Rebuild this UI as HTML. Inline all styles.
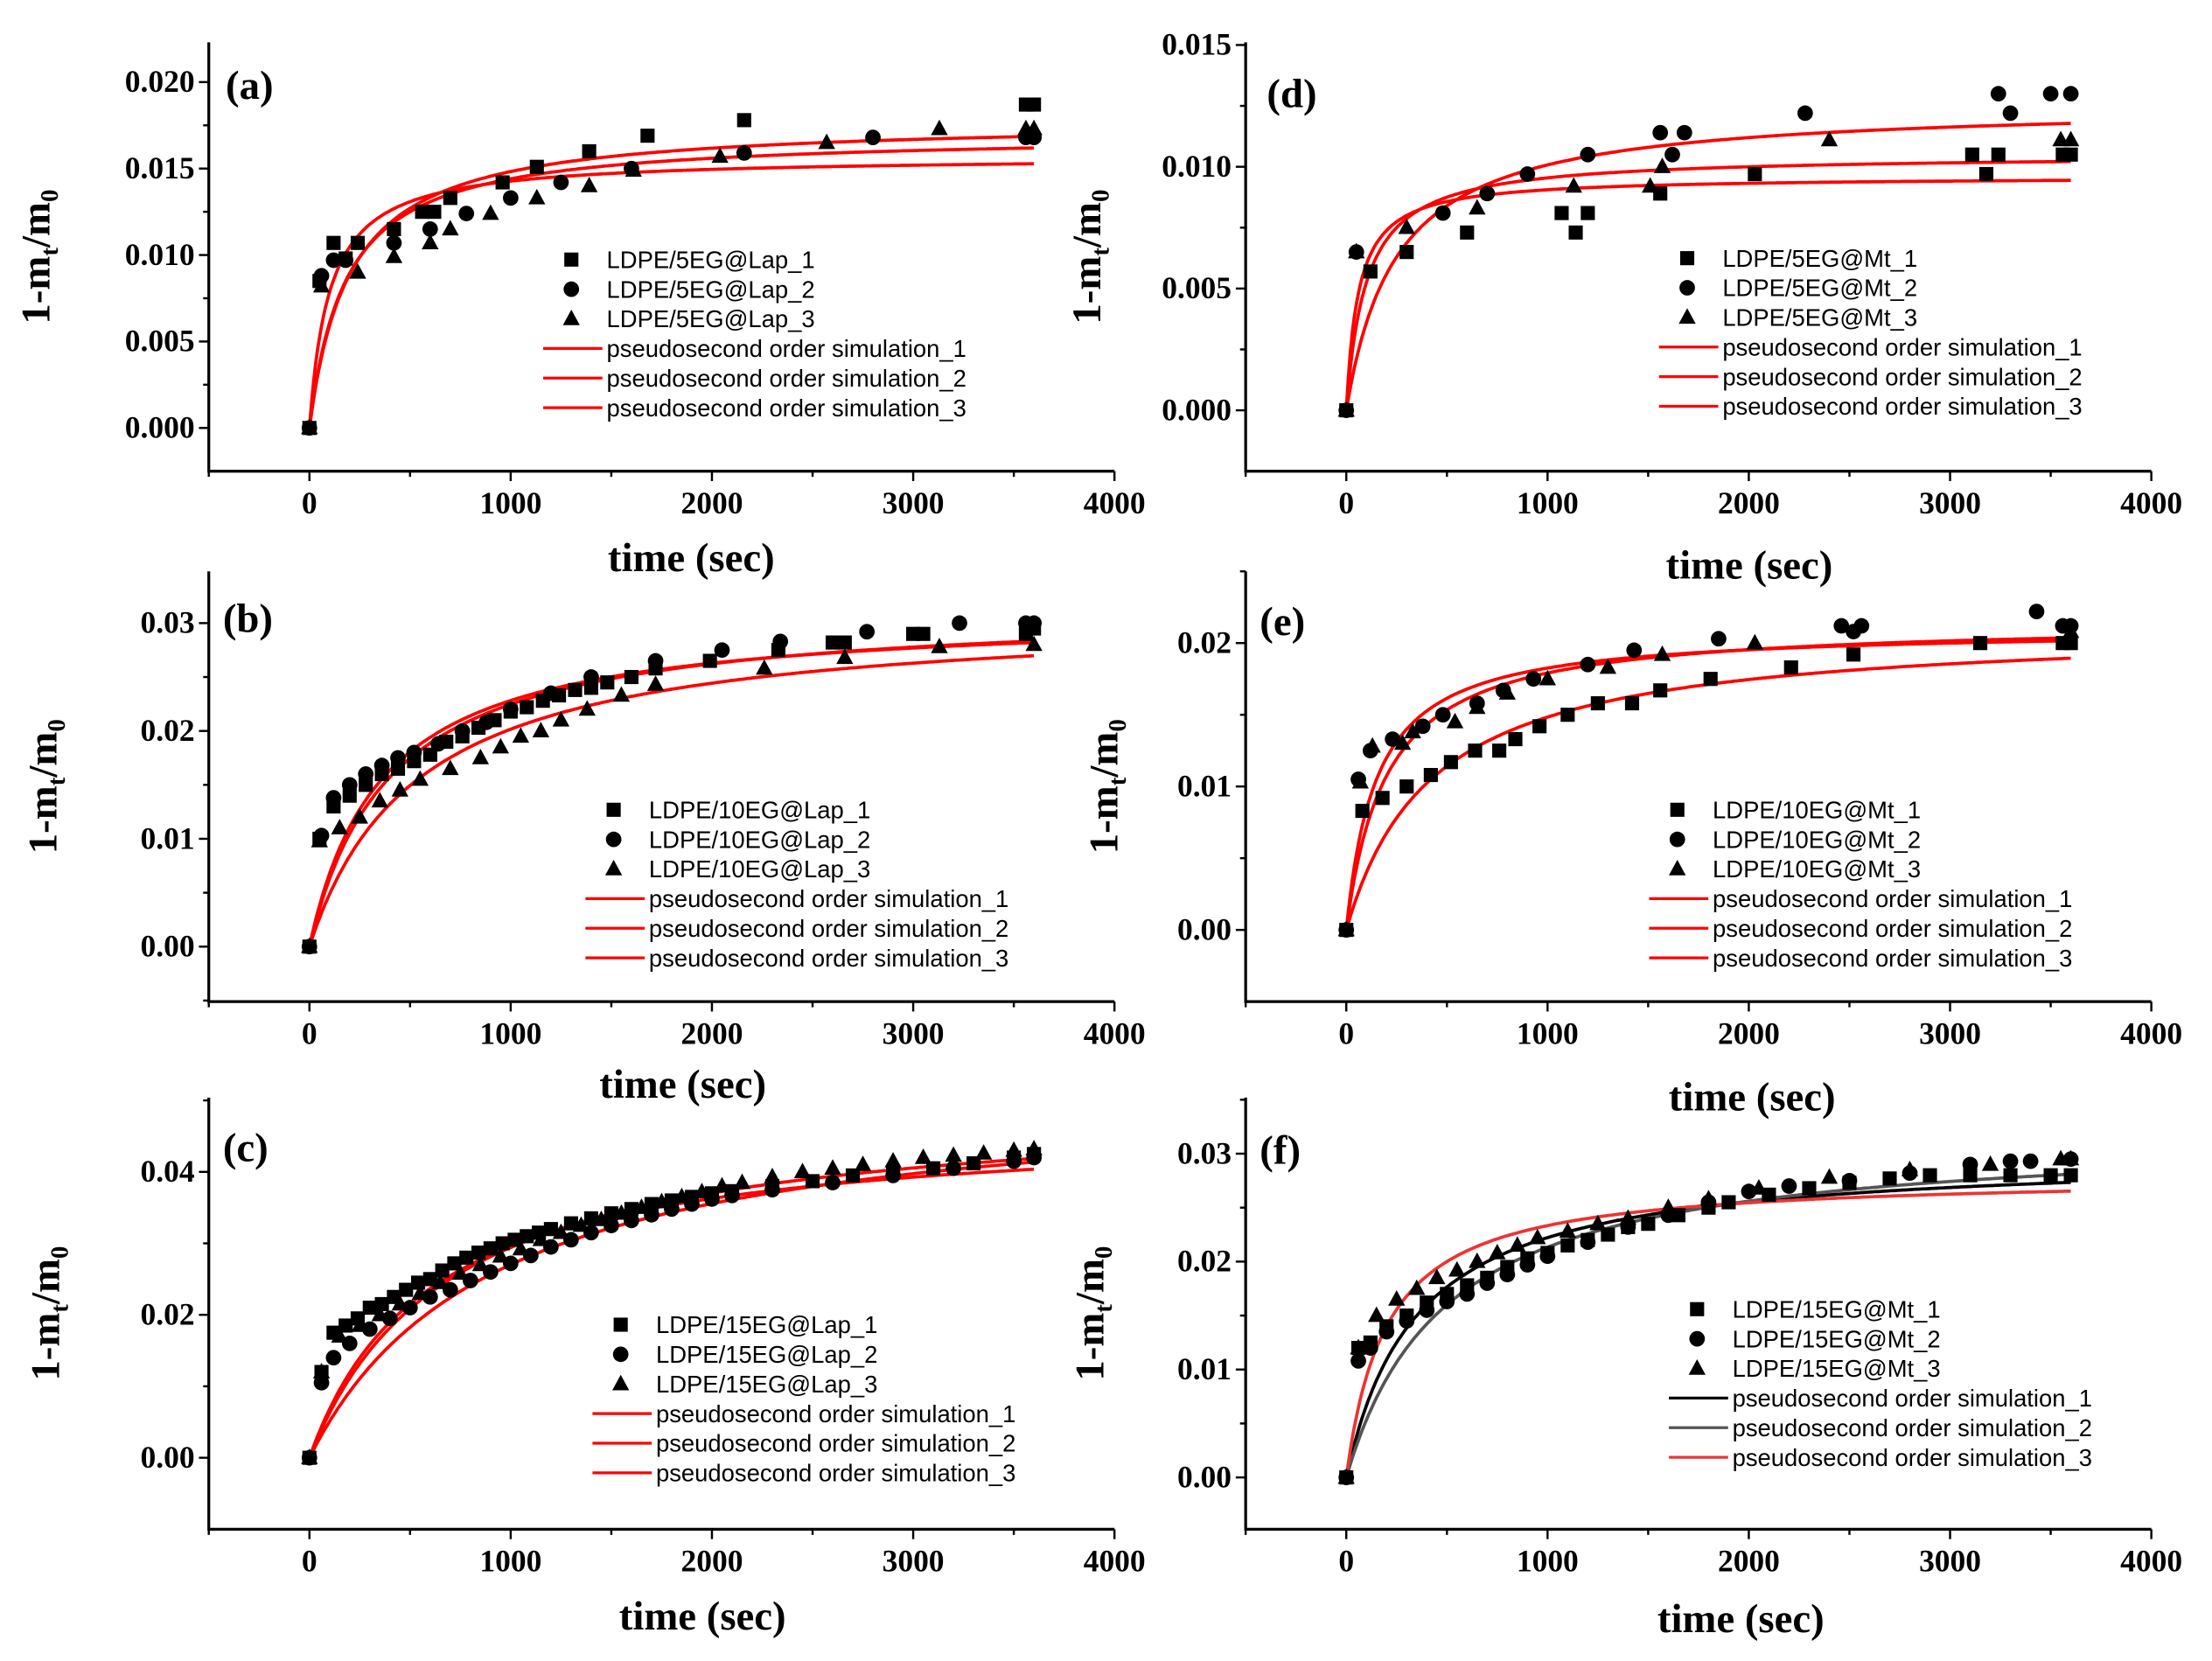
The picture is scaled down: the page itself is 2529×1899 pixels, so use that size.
<!DOCTYPE html>
<html><head><meta charset="utf-8"><style>
html,body{margin:0;padding:0;background:#fff}
svg{display:block}
.tk{font-family:"Liberation Serif",serif;font-weight:bold;font-size:22px}
.at{font-family:"Liberation Serif",serif;font-weight:bold;font-size:29px}
.lg{font-family:"Liberation Sans",sans-serif;font-size:17px}
</style></head><body>
<svg id="fig" width="2529" height="1899" viewBox="0 0 1568 1177.4" xmlns="http://www.w3.org/2000/svg"></svg>
<script>
// ---- data ----
const panelIds=['a','d','b','e','c','f'];
// panel a
const aT1=[0,50,120,180,240,420,560,620,700,960,1130,1390,1680,2160,3560,3600];
const aY1=[0,.0085,.0107,.0098,.0107,.0115,.0125,.0125,.0133,.0142,.0151,.0160,.0169,.0178,.0187,.0187];
const aT2=[0,60,120,180,420,600,780,1000,1250,1600,2160,2800,3560,3600];
const aY2=[0,.0088,.0097,.0097,.0107,.0115,.0124,.0133,.0142,.0150,.0159,.0168,.0168,.0168];
const aT3=[0,60,240,420,600,700,900,1130,1390,1610,2040,2570,3130,3560,3600];
const aY3=[0,.0082,.0090,.0099,.0107,.0115,.0124,.0133,.0140,.0149,.0157,.0165,.0173,.0173,.0173];
const aQe=[.0178,.0170,.0157], aK=[.280,.327,.637];
// panel d
const dT1=[0,120,300,600,1070,1140,1200,1560,2030,3110,3180,3240,3560,3600];
const dY1=[0,.0057,.0065,.0073,.0081,.0073,.0081,.0089,.0097,.0105,.0097,.0105,.0105,.0105];
const dT2=[0,50,480,700,900,1200,1560,1620,1680,2280,3240,3300,3500,3600];
const dY2=[0,.0065,.0081,.0089,.0097,.0105,.0114,.0105,.0114,.0122,.0130,.0122,.0130,.0130];
const dT3=[0,50,300,650,1130,1510,1570,2400,3550,3600];
const dY3=[0,.0065,.0075,.0083,.0092,.0092,.0100,.0111,.0111,.0111];
const dQe=[.0126,.0105,.0096], dK=[.317,.952,1.736];
// panel b
const bT1=[0,50,120,200,280,360,440,520,600,680,760,840,920,1000,1080,1160,1240,1320,1400,1480,1600,1720,1990,2330,2600,2660,3000,3050,3560,3600];
const bY1=[0,.0100,.0130,.0140,.0150,.0160,.0165,.0172,.0178,.0190,.0195,.0203,.0210,.0218,.0222,.0228,.0233,.0238,.0240,.0245,.0250,.0258,.0265,.0275,.0282,.0282,.0290,.0290,.0290,.0295];
const bT2=[0,60,120,200,280,360,440,520,640,760,880,1000,1200,1400,1720,2050,2340,2770,3230,3560,3600];
const bY2=[0,.0103,.0138,.0150,.0160,.0168,.0175,.0180,.0188,.0200,.0208,.0220,.0235,.0250,.0265,.0275,.0283,.0292,.0300,.0300,.0300];
const bT3=[0,50,150,250,350,450,550,700,850,950,1050,1150,1250,1380,1550,1720,2260,2660,3130,3600];
const bY3=[0,.0098,.0110,.0120,.0135,.0145,.0155,.0165,.0175,.0185,.0195,.0200,.0210,.0220,.0233,.0243,.0258,.0268,.0278,.0280];
const bQe=[.0315,.0310,.0310], bK=[.079,.090,.060];
// panel e
const eT1=[0,80,180,300,420,520,640,760,840,960,1100,1250,1420,1560,1810,2210,2520,3150,3560,3600];
const eY1=[0,.0083,.0092,.0100,.0108,.0117,.0125,.0125,.0133,.0142,.0150,.0158,.0158,.0167,.0175,.0183,.0192,.0200,.0200,.0200];
const eT2=[0,60,120,230,380,480,650,780,930,1200,1430,1850,2460,2520,2560,3430,3560,3600];
const eY2=[0,.0105,.0125,.0133,.0142,.0150,.0158,.0167,.0175,.0185,.0195,.0203,.0212,.0208,.0212,.0222,.0212,.0212];
const eT3=[0,70,130,280,330,540,650,800,1000,1300,1570,2030,3600];
const eY3=[0,.0103,.0128,.0130,.0138,.0145,.0155,.0165,.0175,.0183,.0192,.0200,.0208];
const eQe=[.0215,.0210,.0212], eK=[.232,.317,.110];
// panel c
const cT1=[0,60,120,180,240,300,360,420,480,540,600,660,720,780,840,900,960,1020,1080,1140,1200,1300,1400,1500,1600,1700,1800,1900,2000,2100,2300,2500,2700,2900,3100,3300,3500,3600];
const cY1=[0,.0120,.0175,.0185,.0195,.0210,.0215,.0225,.0235,.0245,.0250,.0262,.0272,.0280,.0287,.0293,.0300,.0305,.0310,.0315,.0320,.0328,.0335,.0342,.0348,.0355,.0360,.0365,.0370,.0373,.0380,.0387,.0395,.0400,.0405,.0412,.0420,.0425];
const cT2=[0,60,120,200,300,400,500,600,700,800,900,1000,1100,1200,1300,1400,1500,1600,1700,1800,1900,2000,2100,2300,2600,2900,3200,3500,3600];
const cY2=[0,.0105,.0140,.0160,.0180,.0195,.0210,.0225,.0235,.0248,.0260,.0272,.0283,.0295,.0305,.0315,.0325,.0332,.0340,.0348,.0355,.0362,.0367,.0375,.0385,.0395,.0405,.0415,.0420];
const cT3=[0,60,150,250,350,450,550,650,750,850,950,1050,1150,1250,1350,1450,1550,1650,1750,1850,1950,2050,2150,2300,2450,2600,2750,2900,3050,3200,3350,3500,3600];
const cY3=[0,.0120,.0170,.0185,.0200,.0215,.0230,.0245,.0258,.0270,.0282,.0292,.0305,.0315,.0325,.0333,.0342,.0350,.0358,.0365,.0372,.0380,.0385,.0393,.0400,.0405,.0410,.0415,.0420,.0423,.0426,.0430,.0432];
const cQe=[.0500,.0520,.0470], cK=[.0286,.0208,.0360];
// panel f
const fT1=[0,60,120,200,300,400,500,600,700,800,900,1000,1100,1200,1300,1400,1500,1650,1800,1900,2100,2300,2500,2700,2900,3100,3300,3500,3600];
const fY1=[0,.0120,.0125,.0140,.0150,.0162,.0170,.0178,.0185,.0195,.0203,.0208,.0215,.0220,.0225,.0232,.0235,.0243,.0250,.0255,.0262,.0268,.0273,.0277,.0280,.0280,.0280,.0280,.0280];
const fT2=[0,60,120,200,300,400,500,600,700,800,900,1000,1200,1400,1600,1800,2000,2200,2500,2800,3100,3300,3400,3600];
const fY2=[0,.0108,.0120,.0135,.0145,.0155,.0163,.0170,.0180,.0188,.0197,.0205,.0218,.0232,.0243,.0255,.0265,.0270,.0275,.0282,.0290,.0293,.0293,.0295];
const fT3=[0,60,150,250,350,450,550,650,750,850,950,1100,1250,1400,1600,1800,2050,2400,2800,3200,3550,3600];
const fY3=[0,.0120,.0150,.0165,.0175,.0185,.0192,.0200,.0208,.0215,.0222,.0228,.0235,.0240,.0250,.0258,.0268,.0278,.0285,.0290,.0295,.0295];
const fQe=[.0300,.0320,.0280], fK=[.0952,.0625,.1786];

const panels={
 a:{T:[aT1,aT2,aT3],Y:[aY1,aY2,aY3],qe:aQe,k:aK,box:[148,30,790,334],ymin:-.0025,ymax:.0223,ticks:[0,.005,.01,.015,.02],dec:3,name:'5EG@Lap',lg:[405,184],xt:[490,405],yt:35,lab:[160,62],cols:['red','red','red']},
 d:{T:[dT1,dT2,dT3],Y:[dY1,dY2,dY3],qe:dQe,k:dK,box:[883,30,1525,334],ymin:-.0025,ymax:.01511,ticks:[0,.005,.01,.015],dec:3,name:'5EG@Mt',lg:[1196,183],xt:[1240,410],yt:780,lab:[898,68],cols:['red','red','red']},
 b:{T:[bT1,bT2,bT3],Y:[bY1,bY2,bY3],qe:bQe,k:bK,box:[148,405,790,710],ymin:-.0051,ymax:.0348,ticks:[0,.01,.02,.03],dec:2,name:'10EG@Lap',lg:[435,574],xt:[484,778],yt:40,lab:[158,440],cols:['red','red','red']},
 e:{T:[eT1,eT2,eT3],Y:[eY1,eY2,eY3],qe:eQe,k:eK,box:[883,405,1525,710],ymin:-.005,ymax:.025,ticks:[0,.01,.02],dec:2,name:'10EG@Mt',lg:[1189,574],xt:[1242,787],yt:792,lab:[893,442],cols:['red','red','red']},
 c:{T:[cT1,cT2,cT3],Y:[cY1,cY2,cY3],qe:cQe,k:cK,box:[148,778,790,1084],ymin:-.01,ymax:.0504,ticks:[0,.02,.04],dec:2,name:'15EG@Lap',lg:[440,939],xt:[498,1155],yt:42,lab:[158,815],cols:['red','red','red']},
 f:{T:[fT1,fT2,fT3],Y:[fY1,fY2,fY3],qe:fQe,k:fK,box:[883,778,1525,1084],ymin:-.0048,ymax:.0352,ticks:[0,.01,.02,.03],dec:2,name:'15EG@Mt',lg:[1203,928],xt:[1234,1157],yt:782,lab:[893,817],cols:['#000','#555','#e33']}
};
const NS='http://www.w3.org/2000/svg';
const svg=document.getElementById('fig');
function mk(tag,attrs,parent){const e=document.createElementNS(NS,tag);for(const k in attrs)e.setAttribute(k,attrs[k]);(parent||svg).appendChild(e);return e;}
function marker(g,type,x,y){
 let m;
 if(type===0){m=mk('rect',{x:x-5,y:y-5,width:10,height:10,fill:'#000'},g);}
 else if(type===1){m=mk('circle',{cx:x,cy:y,r:5.5,fill:'#000'},g);}
 else {m=mk('polygon',{points:`${x},${y-6.5} ${x+6},${y+4.5} ${x-6},${y+4.5}`,fill:'#000'},g);}
 return m;
}
for(const id of panelIds){
 const P=panels[id];const [x0,y0,x1,y1]=P.box;
 const X=t=>x0+(t+500)/4500*(x1-x0);
 const Y=v=>y1-(v-P.ymin)/(P.ymax-P.ymin)*(y1-y0);
 const g=mk('g',{});
 
 
 const ax=mk('path',{d:`M${x0},${y0} L${x0},${y1} L${x1},${y1}`,stroke:'#000','stroke-width':2,fill:'none'},g);
 
 
 for(let t=-500;t<=4000;t+=500){
  const major=t%1000===0;
  mk('line',{x1:X(t),x2:X(t),y1:y1,y2:y1+(major?7:4),stroke:'#000','stroke-width':1.5},g);
  if(major){const tx=mk('text',{x:X(t),y:y1+30,'text-anchor':'middle',class:'tk'},g);tx.textContent=t;
   
   }
 }
 const step=P.ticks[1]-P.ticks[0];
 for(let v=0;v<=P.ymax+1e-9;v+=step/2){
  const major=Math.abs(Math.round(v/step)*step-v)<1e-9;
  mk('line',{x1:x0,x2:x0-(major?7:4),y1:Y(v),y2:Y(v),stroke:'#000','stroke-width':1.5},g);
 }
 for(let v=-step/2;v>P.ymin;v-=step/2){mk('line',{x1:x0,x2:x0-4,y1:Y(v),y2:Y(v),stroke:'#000','stroke-width':1.5},g);}
 for(const v of P.ticks){const tx=mk('text',{x:x0-10,y:Y(v)+7,'text-anchor':'end',class:'tk'},g);tx.textContent=v.toFixed(P.dec);
  
  }
 const xt=mk('text',{x:P.xt[0],y:P.xt[1],'text-anchor':'middle',class:'at'},g);xt.textContent='time (sec)';
 
 
 const yc=(y0+y1)/2;
 const yt=mk('text',{x:0,y:0,'text-anchor':'middle',class:'at',transform:`translate(${P.yt},${yc}) rotate(-90)`},g);
 yt.innerHTML='1-m<tspan font-size="18" dy="6">t</tspan><tspan dy="-6">/m</tspan><tspan font-size="18" dy="6">0</tspan>';
 
 
 const lb=mk('text',{x:P.lab[0],y:P.lab[1]+8,class:'at','font-size':'26'},g);lb.textContent='('+id+')';
 
 
 for(let s=0;s<3;s++){
  const qe=P.qe[s],k=P.k[s];let d='';
  for(let t=0;t<=3600;t+=10){const v=qe*qe*k*t/(1+qe*k*t);d+=(t?'L':'M')+X(t).toFixed(1)+','+Y(v).toFixed(1);}
  const c=mk('path',{d:d,stroke:P.cols[s],'stroke-width':2.3,fill:'none'},g);
  
  
 }
 for(let s=0;s<3;s++){
  for(let i=0;i<P.T[s].length;i++){
   const m=marker(g,s,X(P.T[s][i]),Y(P.Y[s][i]));
   
   
  }
 }
 const [lx,ly]=P.lg;
 for(let r=0;r<6;r++){
  const yy=ly+r*21;
  const le=mk('g',{},g);
  
  
  if(r<3)marker(le,r,lx,yy);
  else mk('line',{x1:lx-20,x2:lx+22,y1:yy,y2:yy,stroke:P.cols[r-3],'stroke-width':2},le);
  const t=mk('text',{x:lx+25,y:yy+6,class:'lg'},le);
  t.textContent=r<3?('LDPE/'+P.name+'_'+(r+1)):('pseudosecond order simulation_'+(r-2));
 }
}
</script>
</body></html>
